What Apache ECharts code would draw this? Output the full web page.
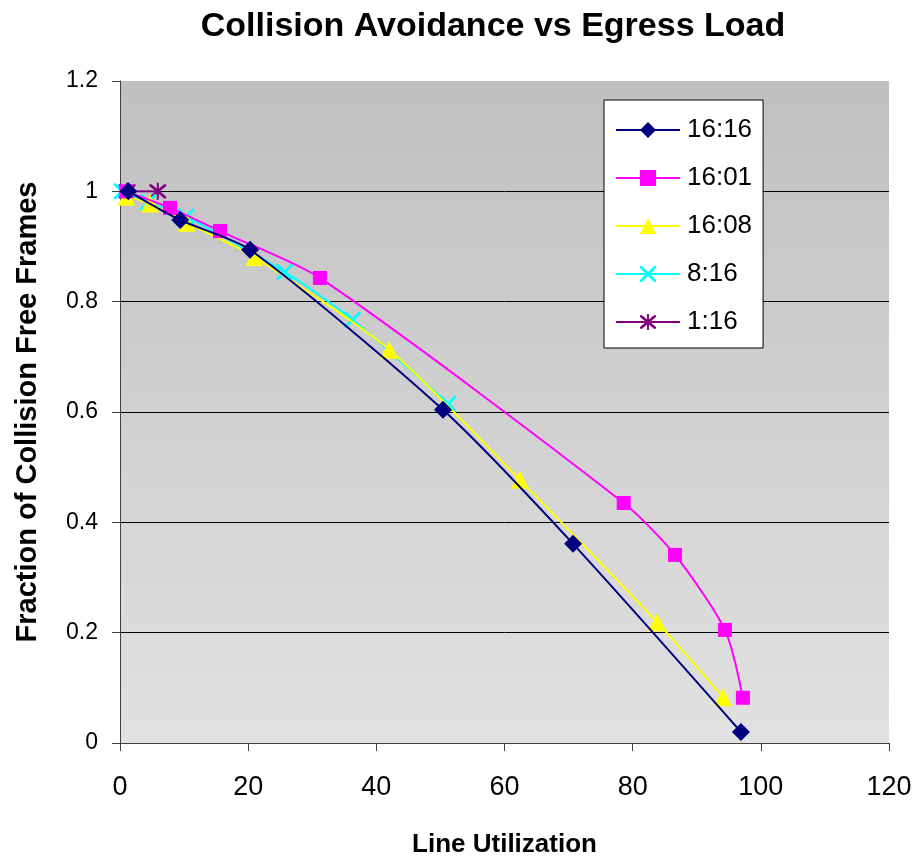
<!DOCTYPE html>
<html>
<head>
<meta charset="utf-8">
<script src="https://cdn.jsdelivr.net/npm/echarts@6/dist/echarts.min.js"></script>
<style>html,body{margin:0;padding:0;background:#fff}#c{width:920px;height:856px}</style>
</head>
<body>
<div id="c"></div>
<script>
var titleText = 'Collision Avoidance vs Egress Load';
var xName = 'Line Utilization';
var yName = 'Fraction of Collision Free Frames';
var seriesNames = ['16:16', '16:01', '16:08', '8:16', '1:16'];

var s1616 = [[1.3, 1.0], [9.4, 0.948], [20.3, 0.894], [50.4, 0.604], [70.7, 0.361], [96.9, 0.02]];
var s1601 = [[1.0, 1.0], [7.8, 0.970], [15.6, 0.928], [31.2, 0.843], [78.6, 0.435], [86.6, 0.341], [94.4, 0.205], [97.2, 0.082]];
var s1608 = [[1.0, 0.99], [4.7, 0.978], [10.4, 0.943], [21.0, 0.881], [42.0, 0.713], [62.4, 0.477], [83.8, 0.219], [94.1, 0.083]];
var s0816 = [[0.3, 1.0], [4.4, 0.98], [10.3, 0.954], [25.7, 0.854], [36.3, 0.767], [51.2, 0.615]];
var s0116 = [[1.1, 1.0], [5.9, 1.0]];

var xTicks = [0, 20, 40, 60, 80, 100, 120];
var yTicks = [0, 0.2, 0.4, 0.6, 0.8, 1, 1.2];

var crossPath = 'path://M0,0 L2.5,0 L10,7.5 L17.5,0 L20,0 L20,2.5 L12.5,10 L20,17.5 L20,20 L17.5,20 L10,12.5 L2.5,20 L0,20 L0,17.5 L7.5,10 L0,2.5 Z';
var starPath = 'path://M0,0 L2.5,0 L10,7.5 L17.5,0 L20,0 L20,2.5 L12.5,10 L20,17.5 L20,20 L17.5,20 L10,12.5 L2.5,20 L0,20 L0,17.5 L7.5,10 L0,2.5 Z M8.8,-2 L11.2,-2 L11.2,22 L8.8,22 Z';

var colors = ['#000080', '#ff00ff', '#ffff00', '#00ffff', '#800080'];
var datas = [s1616, s1601, s1608, s0816, s0116];
var symbols = ['diamond', 'rect', 'triangle', crossPath, starPath];
var sizes = [18, 14, 18, 16, 17];

var chart = echarts.init(document.getElementById('c'));
var series = seriesNames.map(function (n, i) {
  return {
    name: n,
    type: 'line',
    data: datas[i],
    smooth: 0.25,
    symbol: symbols[i],
    symbolSize: sizes[i],
    showAllSymbol: true,
    lineStyle: { color: colors[i], width: 2 },
    itemStyle: { color: colors[i], borderWidth: 0 },
    emphasis: { disabled: true },
    z: 10 - i
  };
});

chart.setOption({
  animation: false,
  backgroundColor: '#ffffff',
  textStyle: { fontFamily: 'Liberation Sans, Arial, sans-serif' },
  title: {
    text: titleText,
    left: 488, top: 5, textAlign: 'center',
    textStyle: { fontSize: 34, fontWeight: 'bold', color: '#000', fontFamily: 'Liberation Sans, Arial, sans-serif' }
  },
  grid: {
    left: 120, right: 31, top: 81, bottom: 113,
    show: true,
    borderWidth: 0,
    containLabel: false,
    outerBoundsMode: 'none',
    backgroundColor: {
      type: 'linear', x: 0, y: 0, x2: 0, y2: 1,
      colorStops: [{ offset: 0, color: '#c0c0c0' }, { offset: 1, color: '#e1e1e1' }]
    }
  },
  legend: {
    orient: 'vertical',
    left: 604, top: 100,
    data: seriesNames,
    backgroundColor: '#ffffff',
    borderColor: '#000000',
    borderWidth: 1,
    padding: [17, 11, 13, 11],
    itemWidth: 64,
    itemHeight: 20,
    itemGap: 22,
    textStyle: { fontSize: 26, color: '#000', lineHeight: 26, padding: [0, 0, 0, 2] }
  },
  xAxis: {
    type: 'value', min: 0, max: 120, interval: 20,
    name: xName, nameLocation: 'middle', nameGap: 89,
    nameTextStyle: { fontSize: 26, fontWeight: 'bold', color: '#000' },
    axisLine: { show: true, onZero: false, lineStyle: { color: '#404040', width: 1 } },
    axisTick: { show: true, inside: false, length: 8, lineStyle: { color: '#404040' } },
    axisLabel: { fontSize: 27, color: '#000', margin: 31 },
    splitLine: { show: false }
  },
  yAxis: {
    type: 'value', min: 0, max: 1.2, interval: 0.2,
    name: yName, nameLocation: 'middle', nameGap: 78,
    nameTextStyle: { fontSize: 29, fontWeight: 'bold', color: '#000' },
    axisLine: { show: true, onZero: false, lineStyle: { color: '#404040', width: 1 } },
    axisTick: { show: true, inside: false, length: 8, lineStyle: { color: '#404040' } },
    axisLabel: { fontSize: 23, color: '#000', margin: 22, formatter: function (v) { return String(Math.round(v * 10) / 10); } },
    splitLine: { show: true, showMaxLine: false, showMinLine: false, lineStyle: { color: '#000', width: 1 } }
  },
  series: series
});
</script>
</body>
</html>
